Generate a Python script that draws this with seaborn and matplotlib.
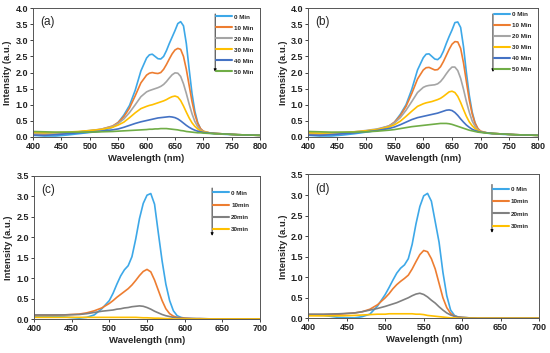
import pandas as pd
import seaborn as sns
import matplotlib.pyplot as plt
from matplotlib import font_manager

# wavelength grids (nm)
wl_ab = [400, 420, 440, 460, 480, 500, 520, 540, 550, 560, 570, 580, 590, 600, 605, 610, 615, 620, 625, 630,
         635, 640, 645, 650, 655, 660, 665, 670, 675, 680, 685, 690, 695, 700, 710, 720, 740, 760, 780, 800]
wl_cd = [400, 420, 440, 460, 470, 480, 490, 500, 505, 510, 515, 520, 525, 530, 535, 540, 545, 550, 555, 560,
         565, 570, 575, 580, 585, 590, 595, 600, 610, 620, 640, 660, 680, 700]

labels_ab = ["0 Min", "10 Min", "20 Min", "30 Min", "40 Min", "50 Min"]
labels_cd = ["0 Min", "10min", "20min", "30min"]

# panel (a)
a_0 = [0.05, 0.03, 0.03, 0.06, 0.10, 0.14, 0.18, 0.30, 0.45, 0.68, 0.98, 1.45, 2.05, 2.45, 2.55, 2.57, 2.50, 2.43,
       2.42, 2.50, 2.68, 2.90, 3.10, 3.30, 3.52, 3.58, 3.45, 2.90, 2.10, 1.35, 0.80, 0.45, 0.25, 0.16, 0.12, 0.10,
       0.08, 0.07, 0.06, 0.05]
a_10 = [0.10, 0.09, 0.10, 0.12, 0.15, 0.19, 0.24, 0.34, 0.45, 0.63, 0.90, 1.28, 1.68, 1.92, 1.98, 2.00, 1.98, 1.97,
        2.00, 2.10, 2.25, 2.42, 2.58, 2.70, 2.75, 2.72, 2.50, 2.10, 1.60, 1.10, 0.70, 0.42, 0.26, 0.18, 0.13, 0.11,
        0.09, 0.07, 0.06, 0.05]
a_20 = [0.12, 0.11, 0.12, 0.13, 0.16, 0.20, 0.24, 0.33, 0.42, 0.56, 0.76, 1.00, 1.25, 1.40, 1.44, 1.47, 1.50, 1.53,
        1.57, 1.63, 1.72, 1.83, 1.93, 1.99, 1.98, 1.88, 1.65, 1.35, 1.02, 0.72, 0.48, 0.32, 0.22, 0.17, 0.13, 0.11,
        0.09, 0.07, 0.06, 0.05]
a_30 = [0.14, 0.13, 0.14, 0.15, 0.17, 0.20, 0.23, 0.30, 0.37, 0.46, 0.60, 0.75, 0.88, 0.95, 0.98, 1.00, 1.03, 1.06,
        1.09, 1.12, 1.16, 1.21, 1.25, 1.27, 1.24, 1.13, 0.96, 0.77, 0.59, 0.44, 0.33, 0.25, 0.19, 0.16, 0.13, 0.11,
        0.09, 0.07, 0.06, 0.05]
a_40 = [0.06, 0.05, 0.07, 0.10, 0.13, 0.15, 0.18, 0.22, 0.25, 0.30, 0.36, 0.42, 0.47, 0.51, 0.53, 0.55, 0.57, 0.59,
        0.60, 0.61, 0.62, 0.63, 0.62, 0.60, 0.56, 0.50, 0.43, 0.36, 0.30, 0.25, 0.21, 0.18, 0.16, 0.14, 0.12, 0.11,
        0.09, 0.07, 0.06, 0.05]
a_50 = [0.17, 0.16, 0.15, 0.15, 0.15, 0.15, 0.16, 0.17, 0.18, 0.19, 0.20, 0.21, 0.22, 0.23, 0.24, 0.24, 0.25, 0.25,
        0.26, 0.26, 0.26, 0.25, 0.24, 0.23, 0.22, 0.20, 0.19, 0.17, 0.16, 0.15, 0.14, 0.13, 0.13, 0.12, 0.11, 0.10,
        0.09, 0.07, 0.06, 0.05]

# panel (b)
b_0 = [0.05, 0.03, 0.03, 0.06, 0.10, 0.15, 0.20, 0.31, 0.46, 0.70, 1.00, 1.48, 2.08, 2.46, 2.57, 2.58, 2.50, 2.42,
       2.40, 2.48, 2.66, 2.90, 3.12, 3.32, 3.55, 3.57, 3.40, 2.80, 2.00, 1.30, 0.78, 0.44, 0.25, 0.16, 0.12, 0.10,
       0.08, 0.07, 0.06, 0.05]
b_10 = [0.09, 0.08, 0.09, 0.11, 0.14, 0.18, 0.23, 0.34, 0.46, 0.66, 0.95, 1.35, 1.80, 2.08, 2.15, 2.16, 2.12, 2.08,
        2.09, 2.18, 2.34, 2.53, 2.72, 2.88, 2.96, 2.95, 2.75, 2.30, 1.72, 1.15, 0.72, 0.43, 0.26, 0.18, 0.13, 0.11,
        0.09, 0.07, 0.06, 0.05]
b_20 = [0.11, 0.10, 0.11, 0.13, 0.16, 0.20, 0.25, 0.34, 0.44, 0.60, 0.83, 1.10, 1.38, 1.54, 1.58, 1.60, 1.61, 1.62,
        1.65, 1.72, 1.83, 1.96, 2.08, 2.17, 2.17, 2.06, 1.82, 1.48, 1.10, 0.77, 0.50, 0.33, 0.22, 0.17, 0.13, 0.11,
        0.09, 0.07, 0.06, 0.05]
b_30 = [0.13, 0.12, 0.13, 0.14, 0.16, 0.19, 0.23, 0.31, 0.38, 0.49, 0.64, 0.80, 0.95, 1.03, 1.06, 1.08, 1.10, 1.13,
        1.16, 1.20, 1.26, 1.33, 1.40, 1.42, 1.38, 1.26, 1.07, 0.85, 0.64, 0.47, 0.35, 0.26, 0.20, 0.16, 0.13, 0.11,
        0.09, 0.07, 0.06, 0.05]
b_40 = [0.06, 0.05, 0.07, 0.10, 0.13, 0.16, 0.20, 0.26, 0.31, 0.38, 0.46, 0.54, 0.60, 0.64, 0.66, 0.68, 0.70, 0.72,
        0.74, 0.77, 0.80, 0.83, 0.84, 0.82, 0.76, 0.67, 0.56, 0.46, 0.37, 0.30, 0.24, 0.20, 0.17, 0.15, 0.13, 0.11,
        0.09, 0.07, 0.06, 0.05]
b_50 = [0.17, 0.16, 0.15, 0.15, 0.15, 0.16, 0.18, 0.21, 0.23, 0.26, 0.29, 0.32, 0.34, 0.36, 0.37, 0.38, 0.39, 0.40,
        0.41, 0.42, 0.42, 0.42, 0.41, 0.39, 0.36, 0.33, 0.30, 0.27, 0.24, 0.21, 0.19, 0.17, 0.15, 0.14, 0.12, 0.11,
        0.09, 0.07, 0.06, 0.05]

# panel (c)
c_0 = [0.06, 0.06, 0.05, 0.02, 0.04, 0.10, 0.25, 0.45, 0.63, 0.85, 1.05, 1.20, 1.30, 1.52, 1.95, 2.45, 2.82, 3.02,
       3.06, 2.80, 2.10, 1.42, 0.85, 0.45, 0.20, 0.08, 0.04, 0.02, 0.01, 0.01, 0.0, 0.0, 0.0, 0.0]
c_10 = [0.09, 0.09, 0.10, 0.12, 0.15, 0.20, 0.27, 0.38, 0.45, 0.53, 0.60, 0.67, 0.74, 0.83, 0.94, 1.06, 1.16, 1.21,
        1.15, 0.95, 0.70, 0.45, 0.25, 0.13, 0.07, 0.04, 0.03, 0.02, 0.01, 0.01, 0.0, 0.0, 0.0, 0.0]
c_20 = [0.10, 0.10, 0.10, 0.11, 0.13, 0.16, 0.19, 0.21, 0.22, 0.24, 0.25, 0.27, 0.28, 0.30, 0.31, 0.32, 0.31, 0.28,
        0.24, 0.19, 0.15, 0.11, 0.08, 0.06, 0.04, 0.03, 0.02, 0.01, 0.01, 0.0, 0.0, 0.0, 0.0, 0.0]
c_30 = [0.04, 0.04, 0.04, 0.04, 0.04, 0.04, 0.04, 0.04, 0.04, 0.04, 0.04, 0.04, 0.04, 0.04, 0.04, 0.035, 0.03, 0.03,
        0.025, 0.02, 0.02, 0.015, 0.01, 0.01, 0.0, 0.0, 0.0, 0.0, 0.0, 0.0, 0.0, 0.0, 0.0, 0.0]

# panel (d)
d_0 = [0.08, 0.07, 0.02, 0.01, 0.04, 0.10, 0.30, 0.58, 0.75, 0.93, 1.10, 1.22, 1.30, 1.45, 1.80, 2.30, 2.72, 2.98,
       3.04, 2.85, 2.35, 1.85, 1.12, 0.55, 0.20, 0.07, 0.03, 0.02, 0.01, 0.0, 0.0, 0.0, 0.0, 0.0]
d_10 = [0.09, 0.09, 0.10, 0.13, 0.16, 0.22, 0.33, 0.50, 0.60, 0.72, 0.82, 0.90, 0.97, 1.05, 1.20, 1.38, 1.55, 1.65,
        1.62, 1.45, 1.20, 0.85, 0.50, 0.26, 0.12, 0.05, 0.03, 0.02, 0.01, 0.0, 0.0, 0.0, 0.0, 0.0]
d_20 = [0.10, 0.10, 0.11, 0.13, 0.16, 0.20, 0.24, 0.29, 0.32, 0.35, 0.38, 0.42, 0.46, 0.50, 0.55, 0.59, 0.61, 0.58,
        0.52, 0.44, 0.37, 0.28, 0.20, 0.13, 0.08, 0.05, 0.03, 0.02, 0.01, 0.0, 0.0, 0.0, 0.0, 0.0]
d_30 = [0.06, 0.06, 0.06, 0.07, 0.08, 0.09, 0.10, 0.10, 0.11, 0.11, 0.11, 0.11, 0.11, 0.11, 0.11, 0.10, 0.10, 0.09,
        0.07, 0.06, 0.05, 0.04, 0.03, 0.02, 0.01, 0.01, 0.0, 0.0, 0.0, 0.0, 0.0, 0.0, 0.0, 0.0]

colors_ab = ["#3DA8E8", "#ED7D31", "#A5A5A5", "#FFC000", "#4472C4", "#70AD47"]
colors_cd = ["#3DA8E8", "#ED7D31", "#808080", "#FFC000"]

sns.set_style("ticks")
names = {f.name for f in font_manager.fontManager.ttflist}
main_font = "Liberation Sans Narrow" if "Liberation Sans Narrow" in names else "Liberation Sans"
plt.rcParams["font.family"] = [main_font, "DejaVu Sans"]

fig = plt.figure(figsize=(5.5, 3.53), dpi=100)

panels = [
    # tag, rect, wl, series, labels, colors, xlim, ylim, arrow x, arrow y0, arrow y1, legend anchor, label spacing
    ("(a)", [0.060, 0.612, 0.413, 0.365], wl_ab, [a_0, a_10, a_20, a_30, a_40, a_50], labels_ab, colors_ab,
     (400, 800), (0, 4.0), 0.802, 0.955, 0.505, (0.806, 0.952), 0.9),
    ("(b)", [0.5606, 0.612, 0.418, 0.365], wl_ab, [b_0, b_10, b_20, b_30, b_40, b_50], labels_ab, colors_ab,
     (400, 800), (0, 4.0), 0.803, 0.955, 0.505, (0.806, 0.975), 0.9),
    ("(c)", [0.0618, 0.0963, 0.411, 0.4065], wl_cd, [c_0, c_10, c_20, c_30], labels_cd, colors_cd,
     (400, 700), (0, 3.5), 0.788, 0.913, 0.58, (0.792, 0.897), 1.1),
    ("(d)", [0.5606, 0.0983, 0.4195, 0.4074], wl_cd, [d_0, d_10, d_20, d_30], labels_cd, colors_cd,
     (400, 700), (0, 3.5), 0.796, 0.931, 0.595, (0.80, 0.915), 1.1),
]

for tag, rect, wl, series, labels, colors, xlim, ylim, ax_x, ay0, ay1, lanchor, lspace in panels:
    ax = fig.add_axes(rect)
    df = pd.DataFrame({"Wavelength": wl})
    for lab, vals in zip(labels, series):
        df[lab] = vals
    long = df.melt(id_vars="Wavelength", var_name="time", value_name="Intensity")
    sns.lineplot(data=long, x="Wavelength", y="Intensity", hue="time", hue_order=labels,
                 palette=dict(zip(labels, colors)), linewidth=1.2, errorbar=None, legend=False, ax=ax)
    ax.set_xlim(*xlim)
    ax.set_ylim(*ylim)
    ax.set_xticks(range(xlim[0], xlim[1] + 1, 50))
    ax.set_yticks([i * 0.5 for i in range(int(ylim[1] / 0.5) + 1)])
    ax.set_yticklabels([f"{i * 0.5:.1f}" for i in range(int(ylim[1] / 0.5) + 1)])
    ax.tick_params(labelsize=6.5, length=2.2, width=0.6, pad=1.5, colors="#222222")
    for t in ax.get_xticklabels() + ax.get_yticklabels():
        t.set_fontweight("bold")
    for sp in ax.spines.values():
        sp.set_visible(True)
        sp.set_color("#555555")
        sp.set_linewidth(0.7)
    ax.set_xlabel("Wavelength (nm)", fontsize=6.8, fontweight="bold", labelpad=2)
    ax.set_ylabel("Intensity (a.u.)", fontsize=6.8, fontweight="bold", labelpad=2)
    ax.text(0.03, 0.94, tag, transform=ax.transAxes, fontsize=8.5, va="top", ha="left")

    leg = ax.legend(handles=ax.lines[:len(labels)], labels=labels, loc="upper left", bbox_to_anchor=lanchor,
                    frameon=False, prop={"size": 4.5, "weight": "bold"}, handlelength=2.6, handletextpad=0.3,
                    labelspacing=lspace, borderpad=0, borderaxespad=0)
    for ln in leg.get_lines():
        ln.set_linewidth(1.5)
    ax.annotate("", xy=(ax_x, ay1), xytext=(ax_x, ay0), xycoords="axes fraction",
                arrowprops=dict(arrowstyle="-|>", color="black", lw=0.6, mutation_scale=4,
                                shrinkA=0, shrinkB=0))

fig.savefig("out.png", dpi=100)
plt.close(fig)
